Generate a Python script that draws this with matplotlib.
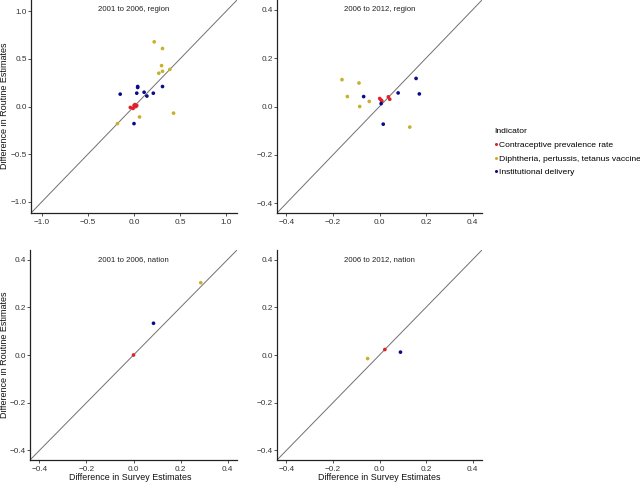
import matplotlib
matplotlib.use('Agg')
import matplotlib.pyplot as plt
from matplotlib.lines import Line2D

plt.rcParams['font.family'] = ['Liberation Sans', 'DejaVu Sans']

# ---- data ----
INDICATORS = ['Contraceptive prevalence rate',
              'Diphtheria, pertussis, tetanus vaccine',
              'Institutional delivery']
COLORS = ['#e0202a', '#c9b02a', '#0a0a8c']

# 2001 to 2006, region
r1_cpr_x = [-0.04, -0.01, 0.00, 0.01, 0.03, 0.01, 0.02]
r1_cpr_y = [-0.01, -0.02, 0.01, 0.02, 0.01, 0.00, 0.00]
r1_dpt_x = [0.22, 0.31, 0.30, 0.31, 0.27, 0.39, 0.43, 0.06, -0.18]
r1_dpt_y = [0.68, 0.61, 0.43, 0.37, 0.35, 0.39, -0.07, -0.11, -0.18]
r1_ins_x = [-0.15, 0.04, 0.04, 0.03, 0.11, 0.14, 0.21, 0.31, 0.00]
r1_ins_y = [0.13, 0.20, 0.21, 0.14, 0.15, 0.11, 0.14, 0.21, -0.18]

# 2006 to 2012, region
r2_cpr_x = [0.001, 0.006, 0.010, 0.038, 0.044]
r2_cpr_y = [0.033, 0.027, 0.023, 0.040, 0.030]
r2_dpt_x = [-0.161, -0.138, -0.088, -0.085, -0.044, 0.130]
r2_dpt_y = [0.111, 0.041, 0.097, 0.000, 0.021, -0.085]
r2_ins_x = [-0.068, 0.007, 0.016, 0.080, 0.157, 0.171]
r2_ins_y = [0.041, 0.012, -0.073, 0.056, 0.116, 0.052]

# 2001 to 2006, nation
n1_cpr_x, n1_cpr_y = [0.0], [0.0]
n1_dpt_x, n1_dpt_y = [0.286], [0.303]
n1_ins_x, n1_ins_y = [0.085], [0.133]

# 2006 to 2012, nation
n2_cpr_x, n2_cpr_y = [0.023], [0.023]
n2_dpt_x, n2_dpt_y = [-0.051], [-0.015]
n2_ins_x, n2_ins_y = [0.090], [0.012]

panels = [
    ('2001 to 2006, region', 1.12, [-1.0, -0.5, 0.0, 0.5, 1.0],
     [(r1_cpr_x, r1_cpr_y), (r1_dpt_x, r1_dpt_y), (r1_ins_x, r1_ins_y)]),
    ('2006 to 2012, region', 0.44, [-0.4, -0.2, 0.0, 0.2, 0.4],
     [(r2_cpr_x, r2_cpr_y), (r2_dpt_x, r2_dpt_y), (r2_ins_x, r2_ins_y)]),
    ('2001 to 2006, nation', 0.44, [-0.4, -0.2, 0.0, 0.2, 0.4],
     [(n1_cpr_x, n1_cpr_y), (n1_dpt_x, n1_dpt_y), (n1_ins_x, n1_ins_y)]),
    ('2006 to 2012, nation', 0.44, [-0.4, -0.2, 0.0, 0.2, 0.4],
     [(n2_cpr_x, n2_cpr_y), (n2_dpt_x, n2_dpt_y), (n2_ins_x, n2_ins_y)]),
]

W, H = 640, 483
# panel boxes in pixels: left, top, right, bottom
boxes = [(31, 0, 237, 213), (277, 0, 482, 213),
         (30, 250, 237, 460), (277, 250, 482, 460)]

fig = plt.figure(figsize=(W / 100, H / 100), dpi=100)
fig.patch.set_facecolor('white')

for k, ((title, lim, ticks, series), (l, t, r, b)) in enumerate(zip(panels, boxes)):
    ax = fig.add_axes([l / W, 1 - b / H, (r - l) / W, (b - t) / H])
    ax.plot([-lim, lim], [-lim, lim], color='#707070', linewidth=0.7, zorder=1)
    for (xs, ys), c in zip(series, COLORS):
        ax.scatter(xs, ys, s=7, color=c, edgecolors='none', zorder=3)
    ax.set_xlim(-lim, lim)
    ax.set_ylim(-lim, lim)
    ax.set_xticks(ticks)
    ax.set_yticks(ticks)
    ax.set_xticklabels([f'{v:.1f}'.replace('-', '\u2212') for v in ticks])
    ax.set_yticklabels([f'{v:.1f}'.replace('-', '\u2212') for v in ticks])
    ax.tick_params(labelsize=5.9, colors='#333333', length=2, width=0.6)
    ax.tick_params(axis='y', pad=1)
    ax.tick_params(axis='x', pad=2.5)
    for side in ('top', 'right'):
        ax.spines[side].set_visible(False)
    for side in ('left', 'bottom'):
        ax.spines[side].set_linewidth(0.9)
        ax.spines[side].set_color('#222222')
    ax.text(0.5, 1 - 6 / (b - t), title, transform=ax.transAxes, ha='center',
            va='top', fontsize=5.6, color='#222222')

# axis labels, one per row / column
for yc in (106, 355):
    fig.text(4.5 / W, 1 - yc / H, 'Difference in Routine Estimates', rotation=90,
             ha='center', va='center', fontsize=6.5, color='#111111')
for xc in (130, 379):
    fig.text(xc / W, 1 - 477 / H, 'Difference in Survey Estimates',
             ha='center', va='center', fontsize=6.4, color='#111111')

handles = [Line2D([0], [0], marker='o', linestyle='None', markersize=2.2,
                  markerfacecolor=c, markeredgecolor='none', label=lab)
           for c, lab in zip(COLORS, INDICATORS)]
leg = fig.legend(handles=handles, title='Indicator', loc='upper left',
                 bbox_to_anchor=(490 / W, 1 - 124 / H), frameon=False,
                 fontsize=6.1, title_fontsize=6.1, handlelength=0.4,
                 handletextpad=0.2, labelspacing=0.68, borderpad=0)
leg._legend_box.align = 'left'

fig.savefig('out.png', dpi=100)
